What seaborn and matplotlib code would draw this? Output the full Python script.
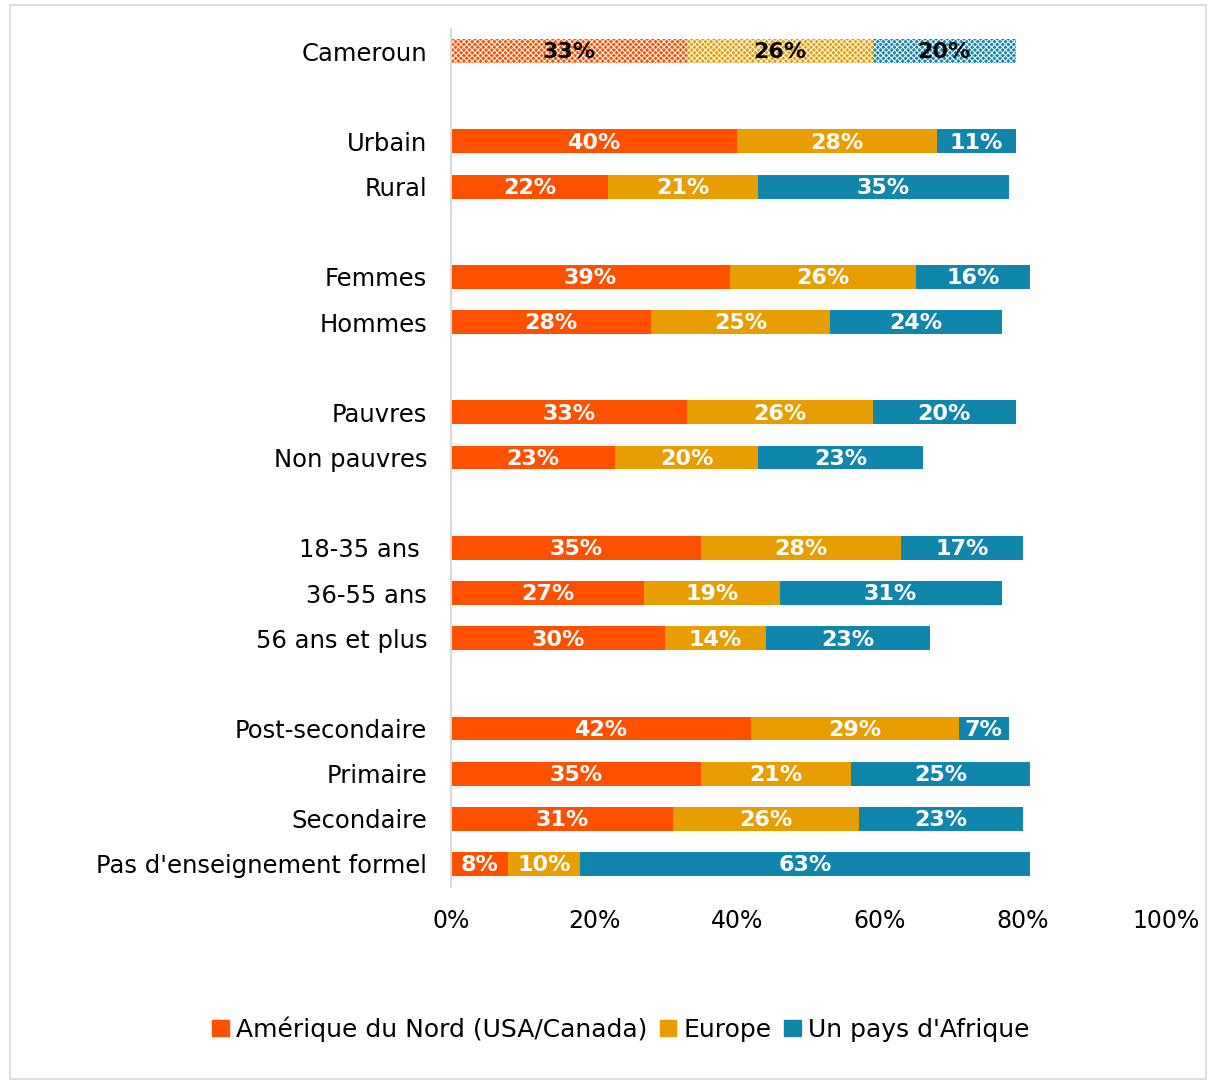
import matplotlib
matplotlib.use("Agg")
import matplotlib.pyplot as plt
import seaborn as sns
import pandas as pd
import numpy as np
from matplotlib.patches import Rectangle

sns.set_theme(style="white")
plt.rcParams['font.family'] = ['DejaVu Sans']
plt.rcParams['hatch.linewidth'] = 0.7

categories = ["Cameroun", "Urbain", "Rural", "Femmes", "Hommes", "Pauvres", "Non pauvres",
              "18-35 ans ", "36-55 ans", "56 ans et plus", "Post-secondaire", "Primaire",
              "Secondaire", "Pas d'enseignement formel"]
amerique = [33, 40, 22, 39, 28, 33, 23, 35, 27, 30, 42, 35, 31, 8]
europe = [26, 28, 21, 26, 25, 26, 20, 28, 19, 14, 29, 21, 26, 10]
afrique = [20, 11, 35, 16, 24, 20, 23, 17, 31, 23, 7, 25, 23, 63]
series_names = ["Amérique du Nord (USA/Canada)", "Europe", "Un pays d'Afrique"]
colors = ["#FF5000", "#E89E00", "#1186AD"]

# Display order with blank spacer rows
order = ["Cameroun", " ", "Urbain", "Rural", "  ", "Femmes", "Hommes", "   ",
         "Pauvres", "Non pauvres", "    ", "18-35 ans ", "36-55 ans", "56 ans et plus", "     ",
         "Post-secondaire", "Primaire", "Secondaire", "Pas d'enseignement formel"]

df = pd.DataFrame({"cat": categories, "a": amerique, "e": europe, "f": afrique})
df["c1"] = df["a"]
df["c2"] = df["a"] + df["e"]
df["c3"] = df["a"] + df["e"] + df["f"]

fig = plt.figure(figsize=(12.08, 10.81), dpi=100)
ax = fig.add_axes([0.3733, 0.1799, 0.5919, 0.7937])

for col, color in zip(["c3", "c2", "c1"], colors[::-1]):
    sns.barplot(data=df, x=col, y="cat", order=order, color=color, orient="h",
                width=0.53, ax=ax, saturation=1, errorbar=None, linewidth=0)

# hatch the Cameroun row
for p in ax.patches:
    yc = p.get_y() + p.get_height() / 2
    if abs(yc - 0) < 0.01:
        p.set_hatch("xxxxxx")
        p.set_edgecolor("white")
        p.set_linewidth(0)

pos = {c: i for i, c in enumerate(order)}
for _, r in df.iterrows():
    y = pos[r["cat"]]
    starts = [0, r["a"], r["a"] + r["e"]]
    vals = [r["a"], r["e"], r["f"]]
    tc = "black" if r["cat"] == "Cameroun" else "white"
    for s, v in zip(starts, vals):
        ax.text(s + v / 2, y + 0.03, f"{v}%", ha="center", va="center", color=tc,
                fontsize=16, fontweight="bold")

ax.set_xlim(0, 100)
ax.set_ylim(len(order) - 0.5, -0.5)
ax.set_xticks(np.arange(0, 101, 20))
ax.set_xticklabels([f"{v}%" for v in range(0, 101, 20)], fontsize=17, color="black")
ax.tick_params(axis="y", labelsize=17.5, pad=17, length=0, labelcolor="black")
ax.tick_params(axis="x", pad=16, length=0)
ax.set_xlabel("")
ax.set_ylabel("")
for s in ["top", "right", "bottom"]:
    ax.spines[s].set_visible(False)
ax.spines["left"].set_color("#D9D9D9")
ax.spines["left"].set_linewidth(1.5)
ax.grid(False)

handles = [Rectangle((0, 0), 1, 1, color=c) for c in colors]
leg = fig.legend(handles, series_names, loc="center", bbox_to_anchor=(0.514, 0.048), ncol=3,
                 frameon=False, fontsize=18, handlelength=0.65, handleheight=0.65,
                 handletextpad=0.3, columnspacing=0.5)
for t in leg.get_texts():
    t.set_color("black")

fig.patches.append(Rectangle((0.008, 0.002), 0.99, 0.993, transform=fig.transFigure,
                             fill=False, edgecolor="#D9D9D9", linewidth=1.2))

fig.savefig("out.png", dpi=100)
